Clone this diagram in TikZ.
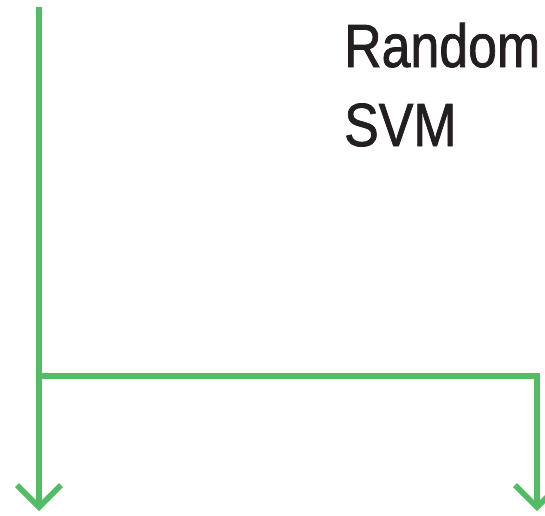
\documentclass[tikz,border=0pt]{standalone}
\usepackage{fontspec}
\setmainfont[FakeStretch=0.85,FakeBold=1.2]{Liberation Sans}
\usetikzlibrary{arrows.meta}
\definecolor{linegreen}{RGB}{82,189,101}
\definecolor{txt}{RGB}{35,31,32}
\tikzset{
  conn/.style={draw=linegreen, line width=5.5pt, line join=miter},
  tipped/.style={conn, -{Straight Barb[length=22pt,width=44pt,line width=5.5pt]}},
  lbl/.style={anchor=base west, inner sep=0pt, text=txt, font=\fontsize{61}{79}\selectfont}
}
\begin{document}
\begin{tikzpicture}[x=1pt,y=-1pt]
\useasboundingbox (0,0) rectangle (545,515);
\coordinate (top) at (39,7);
\coordinate (b1) at (39,511);
\coordinate (j) at (39,376);
\coordinate (c) at (537,376);
\coordinate (b2) at (537,511);
\draw[tipped] (top) -- (b1);
\draw[tipped] (j) -- (c) -- (b2);
\node[lbl] (r) at (344,67) {Random};
\node[lbl] (s) at (344,146) {SVM};
\end{tikzpicture}
\end{document}
